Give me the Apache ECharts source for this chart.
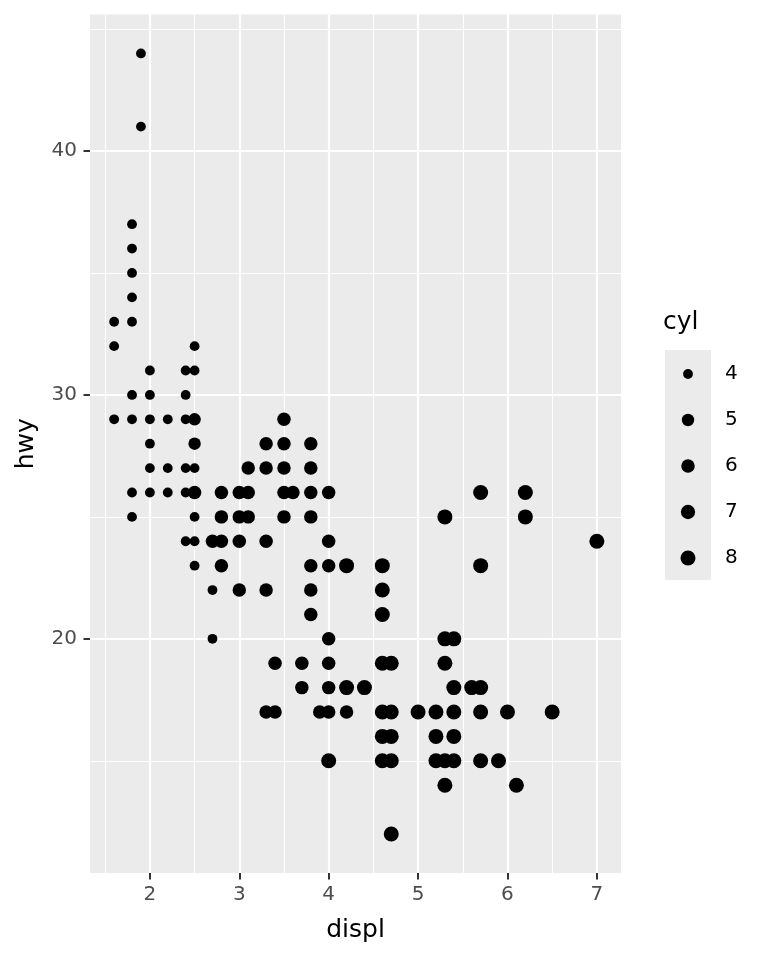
<!DOCTYPE html>
<html><head><meta charset="utf-8">
<script src="https://cdn.jsdelivr.net/npm/echarts@6.0.0/dist/echarts.min.js"></script>
<style>html,body{margin:0;padding:0;background:#fff}#c{width:768px;height:960px}</style>
</head><body><div id="c"></div>
<script>
// ---- data (mpg: displ vs hwy, size = cyl) ----
const cylLevels = ['4', '5', '6', '7', '8'];
const displCyl4 = [1.6,1.6,1.6, 1.8,1.8,1.8,1.8,1.8,1.8,1.8,1.8,1.8, 1.9,1.9, 2.0,2.0,2.0,2.0,2.0,2.0, 2.2,2.2,2.2, 2.4,2.4,2.4,2.4,2.4,2.4, 2.5,2.5,2.5,2.5,2.5,2.5,2.5, 2.7,2.7];
const hwyCyl4   = [33,32,29, 37,36,35,34,33,30,29,26,25, 44,41, 31,30,29,28,27,26, 29,27,26, 31,30,29,27,26,24, 32,31,27,26,25,24,23, 22,20];
const displCyl5 = [2.5, 2.5];
const hwyCyl5   = [29, 28];
const displCyl6 = [2.5, 2.7, 2.8,2.8,2.8,2.8, 3.0,3.0,3.0,3.0, 3.1,3.1,3.1, 3.3,3.3,3.3,3.3,3.3, 3.4,3.4, 3.5,3.5,3.5,3.5,3.5, 3.6, 3.7,3.7, 3.8,3.8,3.8,3.8,3.8,3.8,3.8, 3.9, 4.0,4.0,4.0,4.0,4.0,4.0,4.0, 4.2];
const hwyCyl6   = [26, 24, 26,25,24,23, 26,25,24,22, 27,26,25, 28,27,24,22,17, 19,17, 29,28,27,26,25, 26, 19,18, 28,27,26,25,23,22,21, 17, 26,24,23,20,19,18,17, 17];
const displCyl7 = [];
const hwyCyl7   = [];
const displCyl8 = [4.0, 4.2,4.2, 4.4, 4.6,4.6,4.6,4.6,4.6,4.6,4.6, 4.7,4.7,4.7,4.7,4.7, 5.0, 5.2,5.2,5.2, 5.3,5.3,5.3,5.3,5.3, 5.4,5.4,5.4,5.4,5.4, 5.6, 5.7,5.7,5.7,5.7,5.7, 5.9, 6.0, 6.1, 6.2,6.2, 6.5, 7.0];
const hwyCyl8   = [15, 23,18, 18, 23,22,21,19,17,16,15, 19,17,16,15,12, 17, 17,16,15, 25,20,19,15,14, 20,18,17,16,15, 18, 26,23,18,17,15, 15, 17, 14, 26,25, 17, 24];

const xTicks = [2, 3, 4, 5, 6, 7];
const xMinor = [1.5, 2.5, 3.5, 4.5, 5.5, 6.5];
const yTicks = [20, 30, 40];
const yMinor = [15, 25, 35, 45];

// ---- styling ----
const displByCyl = {'4': displCyl4, '5': displCyl5, '6': displCyl6, '7': displCyl7, '8': displCyl8};
const hwyByCyl = {'4': hwyCyl4, '5': hwyCyl5, '6': hwyCyl6, '7': hwyCyl7, '8': hwyCyl8};
function dotSize(c) { return 9.8 + 5.2 * Math.sqrt((Number(c) - 4) / 4); }

const FONT = 'DejaVu Sans, Verdana, sans-serif';
const TICK_FS = 20, TITLE_FS = 25;
const X_MIN = 1.33, X_MAX = 7.27, Y_MIN = 10.4, Y_MAX = 45.6;

const chart = echarts.init(document.getElementById('c'), null, {renderer: 'canvas'});

const gridSeries = {
  type: 'line', name: 'grid', data: [], z: 1, silent: true, animation: false,
  markLine: {
    z: 1, silent: true, animation: false, symbol: ['none', 'none'], label: {show: false},
    emphasis: {disabled: true},
    data: [
      ...xMinor.map(v => ({xAxis: v, lineStyle: {color: '#FFFFFF', width: 1.1, type: 'solid'}})),
      ...yMinor.map(v => ({yAxis: v, lineStyle: {color: '#FFFFFF', width: 1.1, type: 'solid'}})),
      ...xTicks.map(v => ({xAxis: v, lineStyle: {color: '#FFFFFF', width: 2.2, type: 'solid'}})),
      ...yTicks.map(v => ({yAxis: v, lineStyle: {color: '#FFFFFF', width: 2.2, type: 'solid'}}))
    ]
  }
};

const pointSeries = cylLevels.map(c => ({
  type: 'scatter', name: c, z: 10, animation: false,
  symbol: 'circle', symbolSize: dotSize(c),
  itemStyle: {color: '#000000', opacity: 1},
  emphasis: {disabled: true},
  data: displByCyl[c].map((d, i) => [d, hwyByCyl[c][i]])
}));

const KEY_CX = 688, KEY_Y0 = 374, KEY_STEP = 46, LABEL_X = 725;
const legends = cylLevels.map((c, i) => {
  const s = dotSize(c);
  return {
    data: [{name: c, icon: 'circle'}],
    selectedMode: false, orient: 'vertical', padding: 0,
    itemWidth: s, itemHeight: s,
    left: KEY_CX - s / 2, top: KEY_Y0 + KEY_STEP * i - TICK_FS / 2,
    textStyle: {fontFamily: FONT, fontSize: TICK_FS, lineHeight: TICK_FS, color: '#000',
                padding: [0, 0, 0, LABEL_X - (KEY_CX + s / 2 + 5)]}
  };
});

chart.setOption({
  animation: false,
  backgroundColor: '#FFFFFF',
  textStyle: {fontFamily: FONT},
  grid: {left: 90, top: 14.4, width: 531, height: 858.6, show: true,
         backgroundColor: '#EBEBEB', borderWidth: 0, containLabel: false},
  xAxis: {
    type: 'value', min: X_MIN, max: X_MAX,
    axisLine: {show: false},
    axisTick: {show: true, customValues: xTicks, length: 6.5, lineStyle: {color: '#333333', width: 2}},
    axisLabel: {customValues: xTicks, color: '#4D4D4D', fontSize: TICK_FS, margin: 12, fontFamily: FONT},
    splitLine: {show: false},
    name: 'displ', nameLocation: 'middle', nameGap: 45,
    nameTextStyle: {color: '#000', fontSize: TITLE_FS, fontFamily: FONT}
  },
  yAxis: {
    type: 'value', min: Y_MIN, max: Y_MAX,
    axisLine: {show: false},
    axisTick: {show: true, customValues: yTicks, length: 6.5, lineStyle: {color: '#333333', width: 2}},
    axisLabel: {customValues: yTicks, color: '#4D4D4D', fontSize: TICK_FS, margin: 13, fontFamily: FONT},
    splitLine: {show: false},
    name: 'hwy', nameLocation: 'middle', nameGap: 51,
    nameTextStyle: {color: '#000', fontSize: TITLE_FS, fontFamily: FONT}
  },
  legend: legends,
  graphic: [
    {type: 'rect', left: 665, top: 350, shape: {width: 46, height: 230}, style: {fill: '#EBEBEB'}, silent: true},
    {type: 'text', left: 663, top: 310, style: {text: 'cyl', fill: '#000', font: TITLE_FS + 'px ' + FONT}, silent: true}
  ],
  series: [gridSeries, ...pointSeries]
});
</script>
</body></html>
